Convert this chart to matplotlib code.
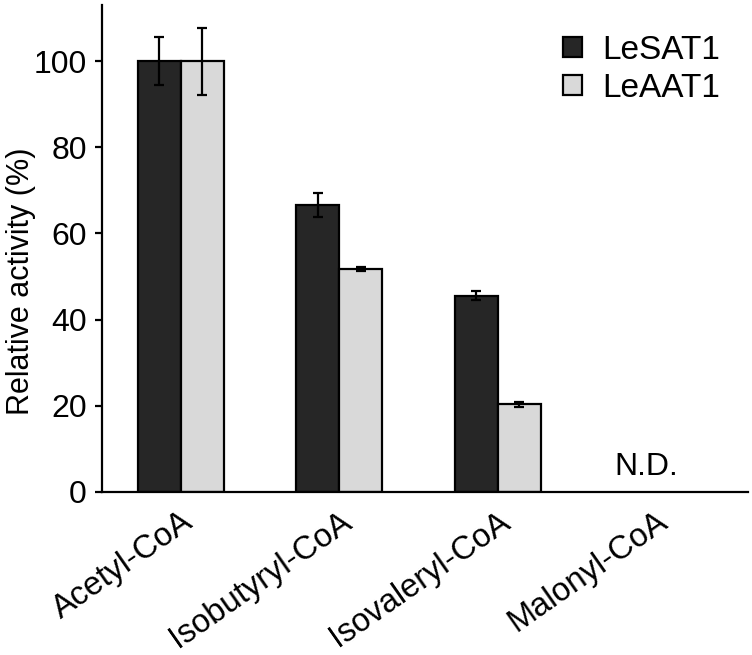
import numpy as np
import matplotlib
matplotlib.use("Agg")
import matplotlib.pyplot as plt

plt.rcParams['font.family'] = ['Liberation Sans', 'DejaVu Sans']

# data
substrates = ['Acetyl-CoA', 'Isobutyryl-CoA', 'Isovaleryl-CoA', 'Malonyl-CoA']
lesat1 = [100.0, 66.6, 45.6, 0.0]
lesat1_err = [5.6, 2.8, 1.0, 0.0]
leaat1 = [100.0, 51.8, 20.3, 0.0]
leaat1_err = [7.8, 0.4, 0.5, 0.0]
nd_label = 'N.D.'

fig = plt.figure(figsize=(7.52, 6.55), dpi=100)
ax = fig.add_axes([0.1356, 0.249, 0.859, 0.743])

x = np.arange(len(substrates))
w = 0.272
n = 3  # Malonyl-CoA not detected, no bars
ax.bar(x[:n] - w/2, lesat1[:n], w, color='#262626', edgecolor='black', linewidth=1.6,
       yerr=lesat1_err[:n], capsize=3.8, error_kw=dict(elinewidth=1.6, capthick=1.6),
       label='LeSAT1')
ax.bar(x[:n] + w/2, leaat1[:n], w, color='#d9d9d9', edgecolor='black', linewidth=1.6,
       yerr=leaat1_err[:n], capsize=3.8, error_kw=dict(elinewidth=1.6, capthick=1.6),
       label='LeAAT1')

ax.text(x[3] - 0.06, 2.2, nd_label, ha='center', va='bottom', fontsize=23)

ax.set_xlim(-0.498, 3.58)
ax.set_ylim(0, 113)
ax.set_yticks([0, 20, 40, 60, 80, 100])
ax.set_xticks(x)
ax.set_xticklabels(substrates, rotation=35, ha='right', rotation_mode='anchor', fontsize=23.5)
ax.tick_params(axis='y', labelsize=23, width=1.6, length=5, pad=6)
ax.tick_params(axis='x', length=0, pad=10)
ax.set_ylabel('Relative activity (%)', fontsize=22)
ax.yaxis.set_label_coords(-0.102, 0.433)
for s in ['top', 'right']:
    ax.spines[s].set_visible(False)
for s in ['left', 'bottom']:
    ax.spines[s].set_linewidth(1.6)

ax.legend(loc='upper right', bbox_to_anchor=(0.957, 0.947), bbox_transform=fig.transFigure,
          frameon=False, fontsize=24, borderpad=0, borderaxespad=0,
          handlelength=0.55, handleheight=0.55, handletextpad=0.6, labelspacing=0.22)

fig.savefig('out.png', dpi=100)
